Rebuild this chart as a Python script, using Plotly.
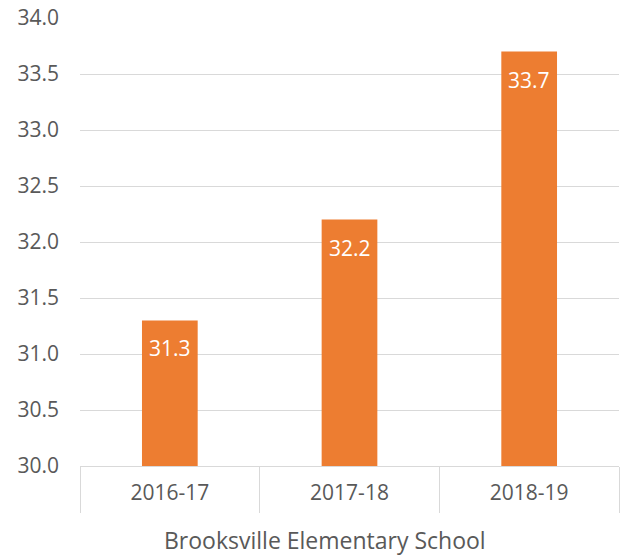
import plotly.graph_objects as go

categories = ["2016-17", "2017-18", "2018-19"]
values = [31.3, 32.2, 33.7]
group_label = "Brooksville Elementary School"

bar_color = "#ED7D31"
grid_color = "#D9D9D9"
text_color = "#595959"
font_family = "'Open Sans', 'Noto Sans', sans-serif"

fig = go.Figure()
fig.add_trace(go.Bar(
    x=categories,
    y=values,
    marker=dict(color=bar_color, line=dict(width=0)),
    hoverinfo="skip",
))

for c, v in zip(categories, values):
    fig.add_annotation(
        x=c, y=v, xref="x", yref="y",
        text=f"{v:.1f}", showarrow=False,
        yanchor="middle", yshift=-28,
        font=dict(family=font_family, size=21, color="white"),
    )

# group label below the category axis
fig.add_annotation(
    x=0.4545, y=0, xref="paper", yref="paper",
    text=group_label, showarrow=False,
    xanchor="center", yanchor="middle", yshift=-74,
    font=dict(family=font_family, size=23, color=text_color),
)

fig.update_layout(
    width=623, height=548,
    margin=dict(l=72, r=12, t=10, b=90, autoexpand=False),
    plot_bgcolor="white", paper_bgcolor="white",
    bargap=0.69,
    showlegend=False,
    font=dict(family=font_family, size=21, color=text_color),
)

fig.update_yaxes(
    range=[30, 34], dtick=0.5, tickformat=".1f",
    showgrid=True, gridcolor=grid_color, gridwidth=1,
    zeroline=False, showline=False, ticks="",
    ticklabelstandoff=20, ticklabeloverflow="allow",
    tickfont=dict(family=font_family, size=21, color=text_color),
)

fig.update_xaxes(
    type="category",
    showline=True, linecolor=grid_color, linewidth=1,
    ticks="outside", tickson="boundaries", ticklen=46, tickcolor=grid_color, tickwidth=1,
    ticklabelstandoff=8,
    showgrid=False,
    tickfont=dict(family=font_family, size=21, color=text_color),
    automargin=False,
)

fig.write_html("out.html")
